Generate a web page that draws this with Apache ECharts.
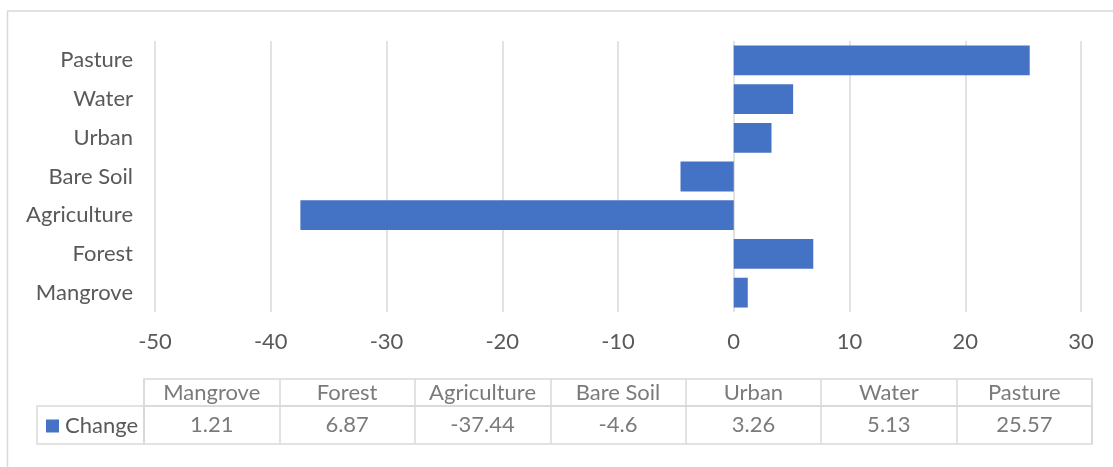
<!DOCTYPE html>
<html>
<head>
<meta charset="utf-8">
<script src="https://cdn.jsdelivr.net/npm/echarts@6/dist/echarts.min.js"></script>
<style>
html,body{margin:0;padding:0;background:#fff;}
#chart{width:1113px;height:467px;}
</style>
</head>
<body>
<div id="chart"></div>
<script>
// ---- data ----
const categories = ['Mangrove', 'Forest', 'Agriculture', 'Bare Soil', 'Urban', 'Water', 'Pasture'];
const changes = [1.21, 6.87, -37.44, -4.6, 3.26, 5.13, 25.57];
const seriesName = 'Change';
const xMin = -50, xMax = 30, xStep = 10;

// ---- style ----
const FONT = 'Lato';
const TEXT = '#595959';
const LINE = '#d9d9d9';
const BAR = '#4472C4';
const FS = 22;

const chart = echarts.init(document.getElementById('chart'), null, {renderer: 'canvas'});

const tableX = {
  type: 'category', data: categories, boundaryGap: true,
  axisLine: {show: false}, axisTick: {show: false}, axisLabel: {show: false},
  splitLine: {show: true, interval: 0, lineStyle: {color: LINE, width: 1.5}}
};

const option = {
  animation: false,
  backgroundColor: '#fff',
  textStyle: {fontFamily: FONT},
  graphic: [{
    type: 'rect', shape: {x: 7.5, y: 11, width: 1300, height: 600},
    style: {fill: 'none', stroke: LINE, lineWidth: 1.5}, silent: true
  }],
  legend: {
    data: [seriesName], left: 46, top: 415, padding: 0,
    icon: 'rect', itemWidth: 13, itemHeight: 13, itemGap: 6,
    textStyle: {fontFamily: FONT, fontSize: FS, color: TEXT, padding: [0, 0, 0, 1]},
    selectedMode: false
  },
  grid: [
    {left: 155, right: 32, top: 41, height: 271},
    {left: 144, right: 21, top: 379, height: 27, show: true, borderColor: LINE, borderWidth: 1.5},
    {left: 144, right: 21, top: 406, height: 38, show: true, borderColor: LINE, borderWidth: 1.5},
    {left: 37, width: 107, top: 406, height: 38, show: true, borderColor: LINE, borderWidth: 1.5}
  ],
  xAxis: [
    {
      gridIndex: 0, type: 'value', min: xMin, max: xMax, interval: xStep,
      axisLine: {show: false}, axisTick: {show: false},
      axisLabel: {fontFamily: FONT, fontSize: FS, color: TEXT, margin: 19},
      splitLine: {show: true, lineStyle: {color: LINE, width: 1.5}}
    },
    Object.assign({gridIndex: 1}, tableX),
    Object.assign({gridIndex: 2}, tableX),
    {gridIndex: 3, type: 'value', show: false}
  ],
  yAxis: [
    {
      gridIndex: 0, type: 'category', data: categories,
      axisLine: {show: false}, axisTick: {show: false},
      axisLabel: {fontFamily: FONT, fontSize: FS, color: TEXT, margin: 22},
      splitLine: {show: false}
    },
    {gridIndex: 1, type: 'category', data: ['h'], show: false},
    {gridIndex: 2, type: 'category', data: ['v'], show: false},
    {gridIndex: 3, type: 'value', show: false}
  ],
  series: [
    {
      name: seriesName, type: 'bar', xAxisIndex: 0, yAxisIndex: 0,
      data: changes, barCategoryGap: '23%',
      itemStyle: {color: BAR}
    },
    {
      name: 'header', type: 'scatter', xAxisIndex: 1, yAxisIndex: 1,
      symbolSize: 1, itemStyle: {color: 'transparent'}, silent: true,
      data: categories.map(c => [c, 'h']),
      label: {show: true, position: 'inside', formatter: p => categories[p.dataIndex],
        fontFamily: FONT, fontSize: FS, color: TEXT}
    },
    {
      name: 'values', type: 'scatter', xAxisIndex: 2, yAxisIndex: 2,
      symbolSize: 1, itemStyle: {color: 'transparent'}, silent: true,
      data: categories.map(c => [c, 'v']),
      label: {show: true, position: 'inside', formatter: p => String(changes[p.dataIndex]),
        fontFamily: FONT, fontSize: FS, color: TEXT}
    }
  ]
};
chart.setOption(option);
</script>
</body>
</html>
